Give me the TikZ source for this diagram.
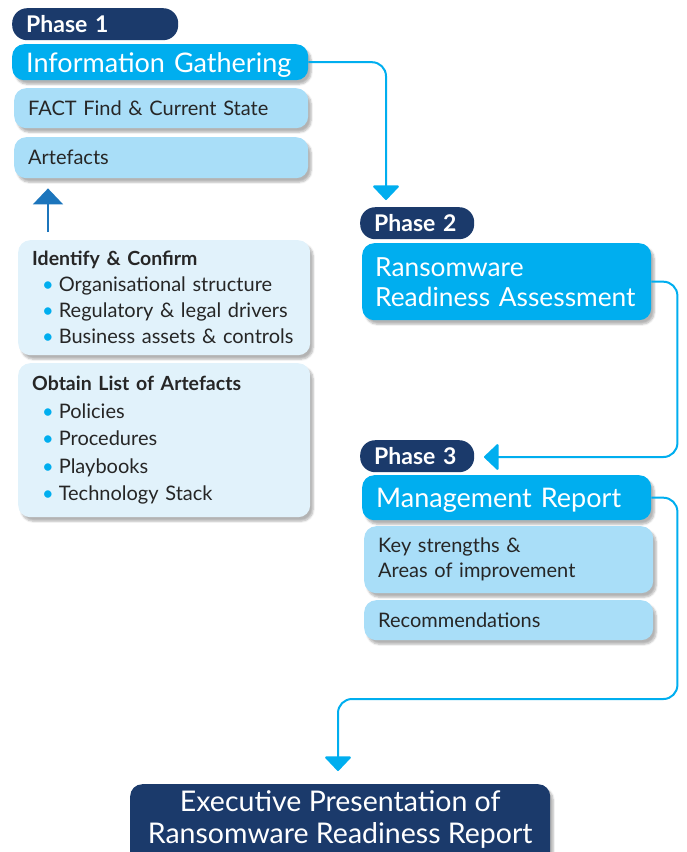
\documentclass[tikz,border=0pt]{standalone}
\usepackage{fontspec}
\setmainfont{Lato}
\usetikzlibrary{positioning, arrows.meta, shadows.blur}
\definecolor{navy}{HTML}{1B3A6B}
\definecolor{cyanbox}{HTML}{00AEEF}
\definecolor{lightbox}{HTML}{A9DEF8}
\definecolor{palebox}{HTML}{E1F2FB}
\definecolor{darktext}{HTML}{262626}
\definecolor{upblue}{HTML}{1C75BC}
\tikzset{%
  shade box/.style = {blur shadow = {shadow xshift = 3pt, shadow yshift = -4pt,
    shadow opacity = 30, shadow blur steps = 6}},
  phase/.style    = {fill = navy, text = white, anchor = north west, rounded corners = 15pt,
    minimum height = 32pt, inner xsep = 14pt, align = left,
    font = \bfseries\fontsize{23}{26}\selectfont},
  head/.style     = {fill = cyanbox, text = white, anchor = north west, rounded corners = 12pt,
    inner xsep = 14pt, align = left, shade box, font = \fontsize{27}{30}\selectfont},
  sub/.style      = {fill = lightbox, text = darktext, anchor = north west, rounded corners = 12pt,
    inner xsep = 14pt, align = left, shade box, font = \fontsize{20}{25}\selectfont},
  note/.style     = {fill = palebox, text = darktext, anchor = north west, rounded corners = 12pt,
    inner xsep = 14pt, align = left, shade box, font = \fontsize{20}{26}\selectfont},
  final/.style    = {fill = navy, text = white, anchor = north west, rounded corners = 12pt,
    align = center, shade box, font = \fontsize{28.5}{32}\selectfont},
  flow/.style     = {draw = cyanbox, line width = 2pt, rounded corners = 14pt,
    -{Triangle[width = 28pt, length = 15pt, round = false]}}, % connector
  upflow/.style   = {draw = upblue, line width = 2pt,
    -{Triangle[width = 30pt, length = 16pt]}}
}
\newcommand{\bul}{\hspace*{10pt}\textcolor{cyanbox}{\textbullet}\hspace{5pt}}

\begin{document}
\begin{tikzpicture}[x = 1pt, y = -1pt]
\clip (0,0) rectangle (686,852);
%phase 1
\draw
	(12,8) node [phase, minimum width = 166pt, text width = 138pt] (ph1) {Phase 1}
	(12,44) node [head, minimum width = 296pt, minimum height = 36pt, text width = 268pt, text depth = 0pt] (info) {\mbox{Information Gathering}}
	(14,88) node [sub, minimum width = 294pt, minimum height = 40pt, text width = 266pt] (fact) {FACT Find \& Current State}
	(14,137) node [sub, minimum width = 294pt, minimum height = 41pt, text width = 266pt] (art) {Artefacts}
	(18,240) node [note, minimum width = 292pt, minimum height = 115pt, text width = 264pt] (idc)
		{{\bfseries\fontsize{19.5}{26}\selectfont Identify \& Confirm}\\ \bul Organisational structure\\ \bul Regulatory \& legal drivers\\ \bul Business assets \& controls}
	(18,363) node [note, minimum width = 292pt, minimum height = 154pt, text width = 264pt,
		font = \fontsize{20}{27.5}\selectfont] (obl)
		{{\bfseries\fontsize{19.5}{27.5}\selectfont Obtain List of Artefacts}\\ \bul Policies\\ \bul Procedures\\ \bul Playbooks\\ \bul Technology Stack};
%phase 2
\draw
	(360,207) node [phase, minimum width = 114pt, text width = 86pt] (ph2) {Phase 2}
	(362,243) node [head, minimum width = 289pt, minimum height = 77pt, text width = 263pt,
		inner xsep = 13pt, font = \fontsize{26.3}{30}\selectfont] (rra) {Ransomware\\ \mbox{Readiness Assessment}};
%phase 3
\draw
	(360,440) node [phase, minimum width = 114pt, text width = 86pt] (ph3) {Phase 3}
	(362,475) node [head, minimum width = 289pt, minimum height = 45pt, text width = 261pt, text depth = 0pt] (mgmt) {Management Report}
	(364,526) node [sub, minimum width = 287pt, minimum height = 67pt, text width = 261pt] (keys) {Key strengths \&\\ Areas of improvement}
	(364,600) node [sub, minimum width = 287pt, minimum height = 40pt, text width = 261pt] (recs) {Recommendations};
%final
\draw
	(130,784) node [final, minimum width = 420pt, inner ysep = 6pt] (exec)
		{Executive Presentation of\\ Ransomware Readiness Report\rule[-24pt]{0pt}{0pt}};
%lines
\coordinate (in2) at (386,200);
\coordinate (in3) at (484,457);
\coordinate (in4) at (338,771);
\draw[flow] (info.east) -| (in2);
\draw[flow] (rra.east) -- ++(26,0) |- (in3);
\draw[flow] (mgmt.east) -- ++(26,0) |- (338,699) -- (in4);
\draw[upflow] ([xshift = 30pt, yshift = 8pt]idc.north west) -- ([xshift = 34pt, yshift = -10pt]art.south west);
\end{tikzpicture}
\end{document}
